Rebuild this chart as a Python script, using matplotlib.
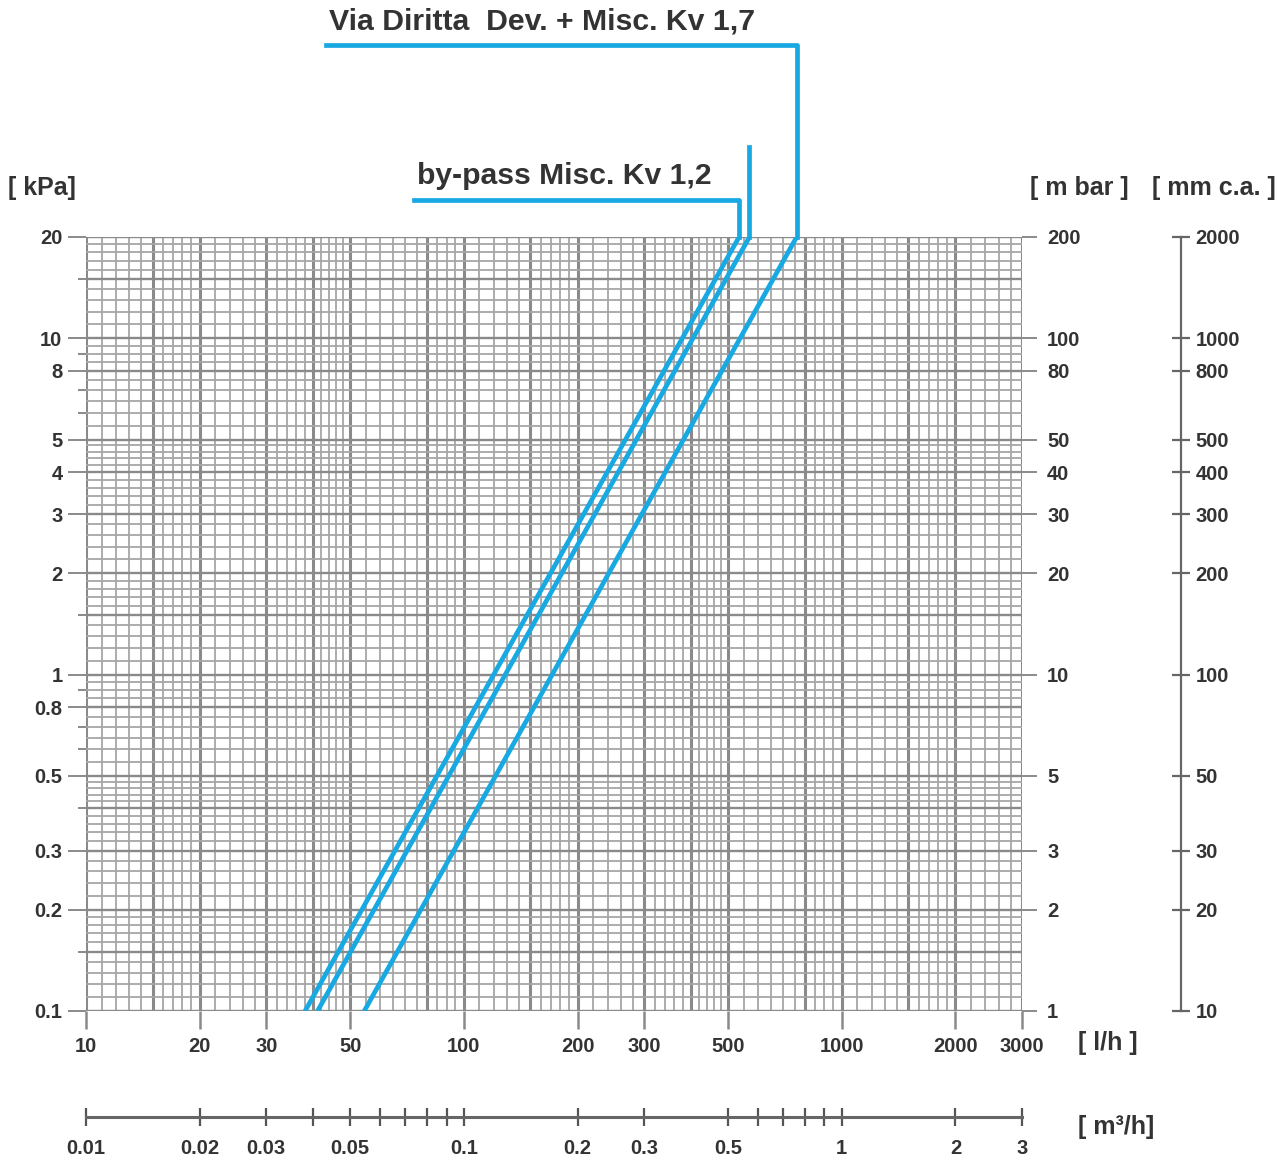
import matplotlib.pyplot as plt
import numpy as np
from matplotlib.ticker import FixedLocator, NullFormatter

plt.rcParams['font.family'] = ['Liberation Sans', 'DejaVu Sans']

# flow (l/h) at the bottom (0.1 kPa) and top (20 kPa) of each characteristic line
dp_ends = [0.1, 20]
q_bypass = [38, 535]        # by-pass Misc. Kv 1,2
q_middle = [41, 570]        # unlabeled line
q_straight = [54.5, 760]    # Via Diritta Dev. + Misc. Kv 1,7

# leader line heights (kPa) and horizontal ends (l/h)
lead_bypass_y, lead_bypass_x = 25.8, 74
lead_middle_y = 37
lead_straight_y, lead_straight_x = 74.5, 43.2

label_bypass = "by-pass Misc. Kv 1,2"
label_straight = "Via Diritta  Dev. + Misc. Kv 1,7"

# axis ticks
kpa_ticks = [0.1, 0.2, 0.3, 0.5, 0.8, 1, 2, 3, 4, 5, 8, 10, 20]
kpa_labels = ["0.1", "0.2", "0.3", "0.5", "0.8", "1", "2", "3", "4", "5", "8", "10", "20"]
kpa_minor = [0.15, 0.4, 0.6, 0.7, 0.9, 1.5, 6, 7, 9, 15]
mbar_ticks = [1, 2, 3, 5, 10, 20, 30, 40, 50, 80, 100, 200]
mm_ticks = [10, 20, 30, 50, 100, 200, 300, 400, 500, 800, 1000, 2000]
lh_ticks = [10, 20, 30, 50, 100, 200, 300, 500, 1000, 2000, 3000]
m3h_ticks = [0.01, 0.02, 0.03, 0.04, 0.05, 0.06, 0.07, 0.08, 0.09, 0.1,
             0.2, 0.3, 0.5, 0.6, 0.7, 0.8, 0.9, 1, 2, 3]
m3h_labels = {0.01: "0.01", 0.02: "0.02", 0.03: "0.03", 0.05: "0.05", 0.1: "0.1",
              0.2: "0.2", 0.3: "0.3", 0.5: "0.5", 1: "1", 2: "2", 3: "3"}

BLUE = '#18a9e2'
TXT = '#333333'
GRID = '#a6a6a6'
GRID_DARK = '#8a8a8a'
TICK_FONT = 14.5


def paper_lines(lo, hi):
    vals = []
    for d in [0.01, 0.1, 1, 10, 100, 1000]:
        m = np.concatenate([np.arange(1, 2, 0.1), np.arange(2, 5, 0.2), np.arange(5, 10, 0.5)])
        vals += list(np.round(m * d, 6))
    return [v for v in vals if lo * 0.999 <= v <= hi * 1.001]


def is_dark(v):
    m = v / 10 ** np.floor(np.log10(v) + 1e-9)
    return any(abs(m - k) < 1e-6 for k in [1, 1.5, 2, 3, 4, 5, 8])


fig = plt.figure(figsize=(12.85, 11.59), dpi=100)
L, B, W, H = 86 / 1285, 1 - 1011 / 1159, 936 / 1285, 774 / 1159
ax = fig.add_axes([L, B, W, H])
ax.set_xscale('log')
ax.set_yscale('log')
ax.set_xlim(10, 3000)
ax.set_ylim(0.1, 20)

for v in paper_lines(10, 3000):
    dark = is_dark(v)
    ax.axvline(v, color=GRID_DARK if dark else GRID, lw=2.2 if dark else 1.3, zorder=1)
for v in paper_lines(0.1, 20):
    dark = is_dark(v)
    ax.axhline(v, color=GRID_DARK if dark else GRID, lw=1.7 if dark else 1.3, zorder=1)
for s in ax.spines.values():
    s.set_visible(False)

ax.yaxis.set_major_locator(FixedLocator(kpa_ticks))
ax.set_yticklabels(kpa_labels, fontweight='bold')
ax.yaxis.set_minor_locator(FixedLocator(kpa_minor))
ax.yaxis.set_minor_formatter(NullFormatter())
ax.tick_params(axis='y', which='major', length=13, width=1.4, color=GRID_DARK,
               labelsize=TICK_FONT, labelcolor=TXT, pad=4)
ax.tick_params(axis='y', which='minor', length=6, width=1.4, color=GRID_DARK)
ax.xaxis.set_major_locator(FixedLocator(lh_ticks))
ax.set_xticklabels([str(t) for t in lh_ticks], fontweight='bold')
ax.xaxis.set_minor_locator(FixedLocator([]))
ax.tick_params(axis='x', which='major', length=13, width=1.8, color=GRID_DARK,
               labelsize=TICK_FONT, labelcolor=TXT, pad=6)

# characteristic lines
for q in [q_bypass, q_middle, q_straight]:
    ax.plot(q, dp_ends, color=BLUE, lw=3.4, zorder=3, solid_capstyle='butt')

# leaders
ax.plot([q_bypass[1], q_bypass[1], lead_bypass_x], [dp_ends[1], lead_bypass_y, lead_bypass_y],
        color=BLUE, lw=3.4, clip_on=False, zorder=3)
ax.plot([q_middle[1], q_middle[1]], [dp_ends[1], lead_middle_y],
        color=BLUE, lw=3.4, clip_on=False, zorder=3)
ax.plot([q_straight[1], q_straight[1], lead_straight_x],
        [dp_ends[1], lead_straight_y, lead_straight_y],
        color=BLUE, lw=3.4, clip_on=False, zorder=3)
ax.text(75.2, 30.4, label_bypass, fontsize=21.7, fontweight='bold', color=TXT,
        ha='left', va='center', clip_on=False)
ax.text(43.9, 87.3, label_straight, fontsize=21.8, fontweight='bold', color=TXT,
        ha='left', va='center', clip_on=False)

# m bar axis
axm = ax.twinx()
axm.set_yscale('log')
axm.set_ylim(1, 200)
for s in axm.spines.values():
    s.set_visible(False)
axm.yaxis.set_major_locator(FixedLocator(mbar_ticks))
axm.set_yticklabels([str(t) for t in mbar_ticks], fontweight='bold')
axm.yaxis.set_minor_locator(FixedLocator([]))
axm.tick_params(axis='y', length=11, width=1.4, color=GRID_DARK, labelsize=TICK_FONT,
                labelcolor=TXT, pad=7)

# mm c.a. axis
axw = ax.twinx()
axw.set_yscale('log')
axw.set_ylim(10, 2000)
for k, s in axw.spines.items():
    s.set_visible(k == 'right')
axw.spines['right'].set_position(('axes', (1181 - 86) / 936))
axw.spines['right'].set_color('#666666')
axw.spines['right'].set_linewidth(1.6)
axw.yaxis.set_major_locator(FixedLocator(mm_ticks))
axw.set_yticklabels([str(t) for t in mm_ticks], fontweight='bold')
axw.yaxis.set_minor_locator(FixedLocator([]))
axw.tick_params(axis='y', direction='inout', length=13, width=1.6, color='#666666',
                labelsize=TICK_FONT, labelcolor=TXT, pad=4)

# m3/h axis
ax3 = fig.add_axes([L, 1 - 1117 / 1159, W, 1e-4])
ax3.set_xscale('log')
ax3.set_xlim(0.01, 3)
ax3.set_yticks([])
for k, s in ax3.spines.items():
    s.set_visible(k == 'bottom')
ax3.spines['bottom'].set_color('#666666')
ax3.spines['bottom'].set_linewidth(2.2)
ax3.xaxis.set_major_locator(FixedLocator(m3h_ticks))
ax3.set_xticklabels([m3h_labels.get(t, "") for t in m3h_ticks], fontweight='bold')
ax3.xaxis.set_minor_locator(FixedLocator([]))
ax3.tick_params(axis='x', direction='inout', length=13, width=1.6, color='#555555',
                labelsize=TICK_FONT, labelcolor=TXT, pad=9)

# unit labels
unit_kw = dict(fontsize=18, fontweight='bold', color=TXT, va='center', ha='left')
fig.text(8 / 1285, 1 - 188 / 1159, "[ kPa]", **unit_kw)
fig.text(1030 / 1285, 1 - 188 / 1159, "[ m bar ]", **unit_kw)
fig.text(1152 / 1285, 1 - 188 / 1159, "[ mm c.a. ]", **unit_kw)
fig.text(1078 / 1285, 1 - 1043 / 1159, "[ l/h ]", **unit_kw)
fig.text(1078 / 1285, 1 - 1127 / 1159, "[ m³/h]", **unit_kw)

fig.savefig('out.png', dpi=100)
